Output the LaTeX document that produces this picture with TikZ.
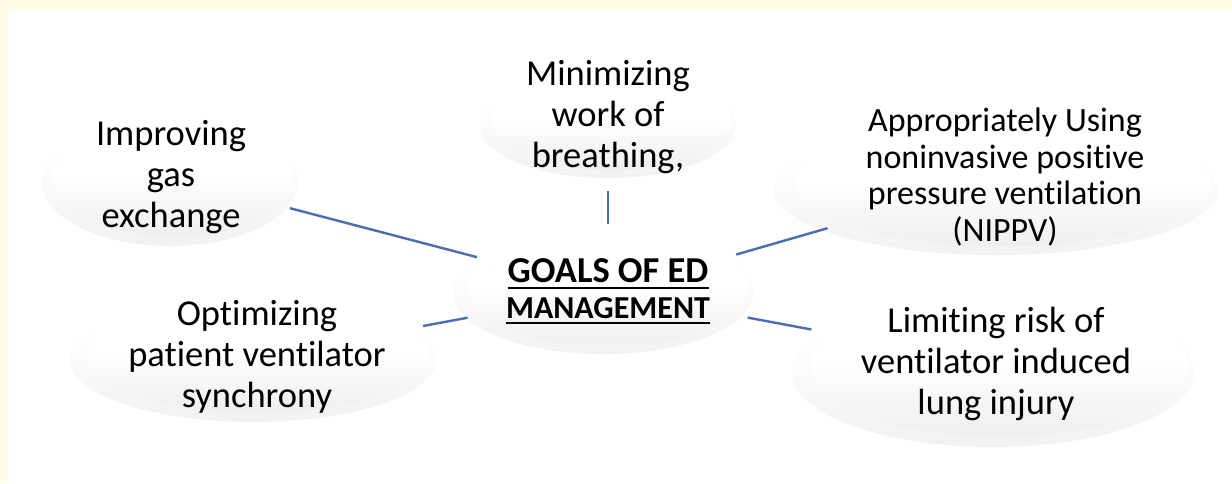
\documentclass[tikz,border=0pt]{standalone}
\usepackage{fontspec}
\setmainfont{Carlito}[Ligatures={NoCommon,NoRare}]
\usetikzlibrary{calc}

\definecolor{paper}{HTML}{FFFBE6}
\definecolor{linkblue}{HTML}{4A6DB3}

% vertical shadings for the soft button-like ellipses (0bp = bottom, 100bp = top)
\pgfdeclareverticalshading{rimshade}{100bp}{color(0bp)=(gray!26); color(12bp)=(gray!14); color(45bp)=(gray!5); color(62bp)=(white); color(100bp)=(white)}
\pgfdeclareverticalshading{coreshade}{100bp}{color(0bp)=(white); color(5bp)=(gray!11); color(15bp)=(gray!18); color(52bp)=(white); color(100bp)=(white)}

% thick underline drawn under a box of text
\newcommand\thickul[2][-7pt]{\setbox0=\hbox{#2}\rlap{\rule[#1]{\wd0}{2.4pt}}\box0}

\tikzset{
  goaltext/.style={font=\fontsize{36.5}{41}\selectfont, align=center, text=black, inner sep=0pt},
  headtext/.style={align=center, text=black, inner sep=0pt, font=\bfseries},
  link/.style={draw=linkblue, line width=2.4pt},
}

% a soft ellipse: faint outer rim plus an inner shaded body
\newcommand\softbubble[4]{%
  \shade[shading=rimshade] (#1,#2) ellipse [x radius=#3, y radius=#4];
  \shade[shading=coreshade] ($(#1,#2)+(0.03*#3,-0.07*#4)$) ellipse [x radius=0.94*#3, y radius=0.93*#4];
}

\begin{document}
\begin{tikzpicture}[x=1pt, y=-1pt]
  \useasboundingbox (0,0) rectangle (1232,483);
  \fill[paper] (0,0) rectangle (1232,483);
  \fill[white] (8,9) rectangle (1232,483);

  % ellipses
  \softbubble{170}{182}{128}{64}
  \softbubble{608}{125}{128}{53}
  \softbubble{996}{190}{222}{65}
  \softbubble{253}{360}{183}{62}
  \softbubble{993}{372}{201}{75}
  \softbubble{603}{293}{150}{61}

  % texts
  \node[headtext] (goal) at (608,291.5) {%
    \fontsize{36.5}{37}\selectfont\thickul{GOALS OF ED}\\[7pt]
    \fontsize{32}{37}\selectfont\thickul[-6pt]{MANAGEMENT}};
  \node[goaltext] (imp) at (171,177) {Improving\\gas\\exchange};
  \node[goaltext] (min) at (608,117) {Minimizing\\work of\\breathing,};
  \node[goaltext, font=\fontsize{34}{36.5}\selectfont] (app) at (1005,177) {Appropriately Using\\noninvasive positive\\pressure ventilation\\(NIPPV)};
  \node[goaltext] (opt) at (257,357) {Optimizing\\patient ventilator\\synchrony};
  \node[goaltext] (lim) at (996,364) {Limiting risk of\\ventilator induced\\lung injury};

  % connectors
  \draw[link] ($(goal)!0.30!(imp)$) -- ($(goal)!0.728!(imp)$);
  \draw[link] ($(goal)!0.387!(min)$) -- ($(goal)!0.578!(min)$);
  \draw[link] ($(goal)!0.323!(app)$) -- ($(goal)!0.553!(app)$);
  \draw[link] ($(goal)!0.40!(opt)$) -- ($(goal)!0.527!(opt)$);
  \draw[link] ($(goal)!0.36!(lim)$) -- ($(goal)!0.524!(lim)$);
\end{tikzpicture}
\end{document}
